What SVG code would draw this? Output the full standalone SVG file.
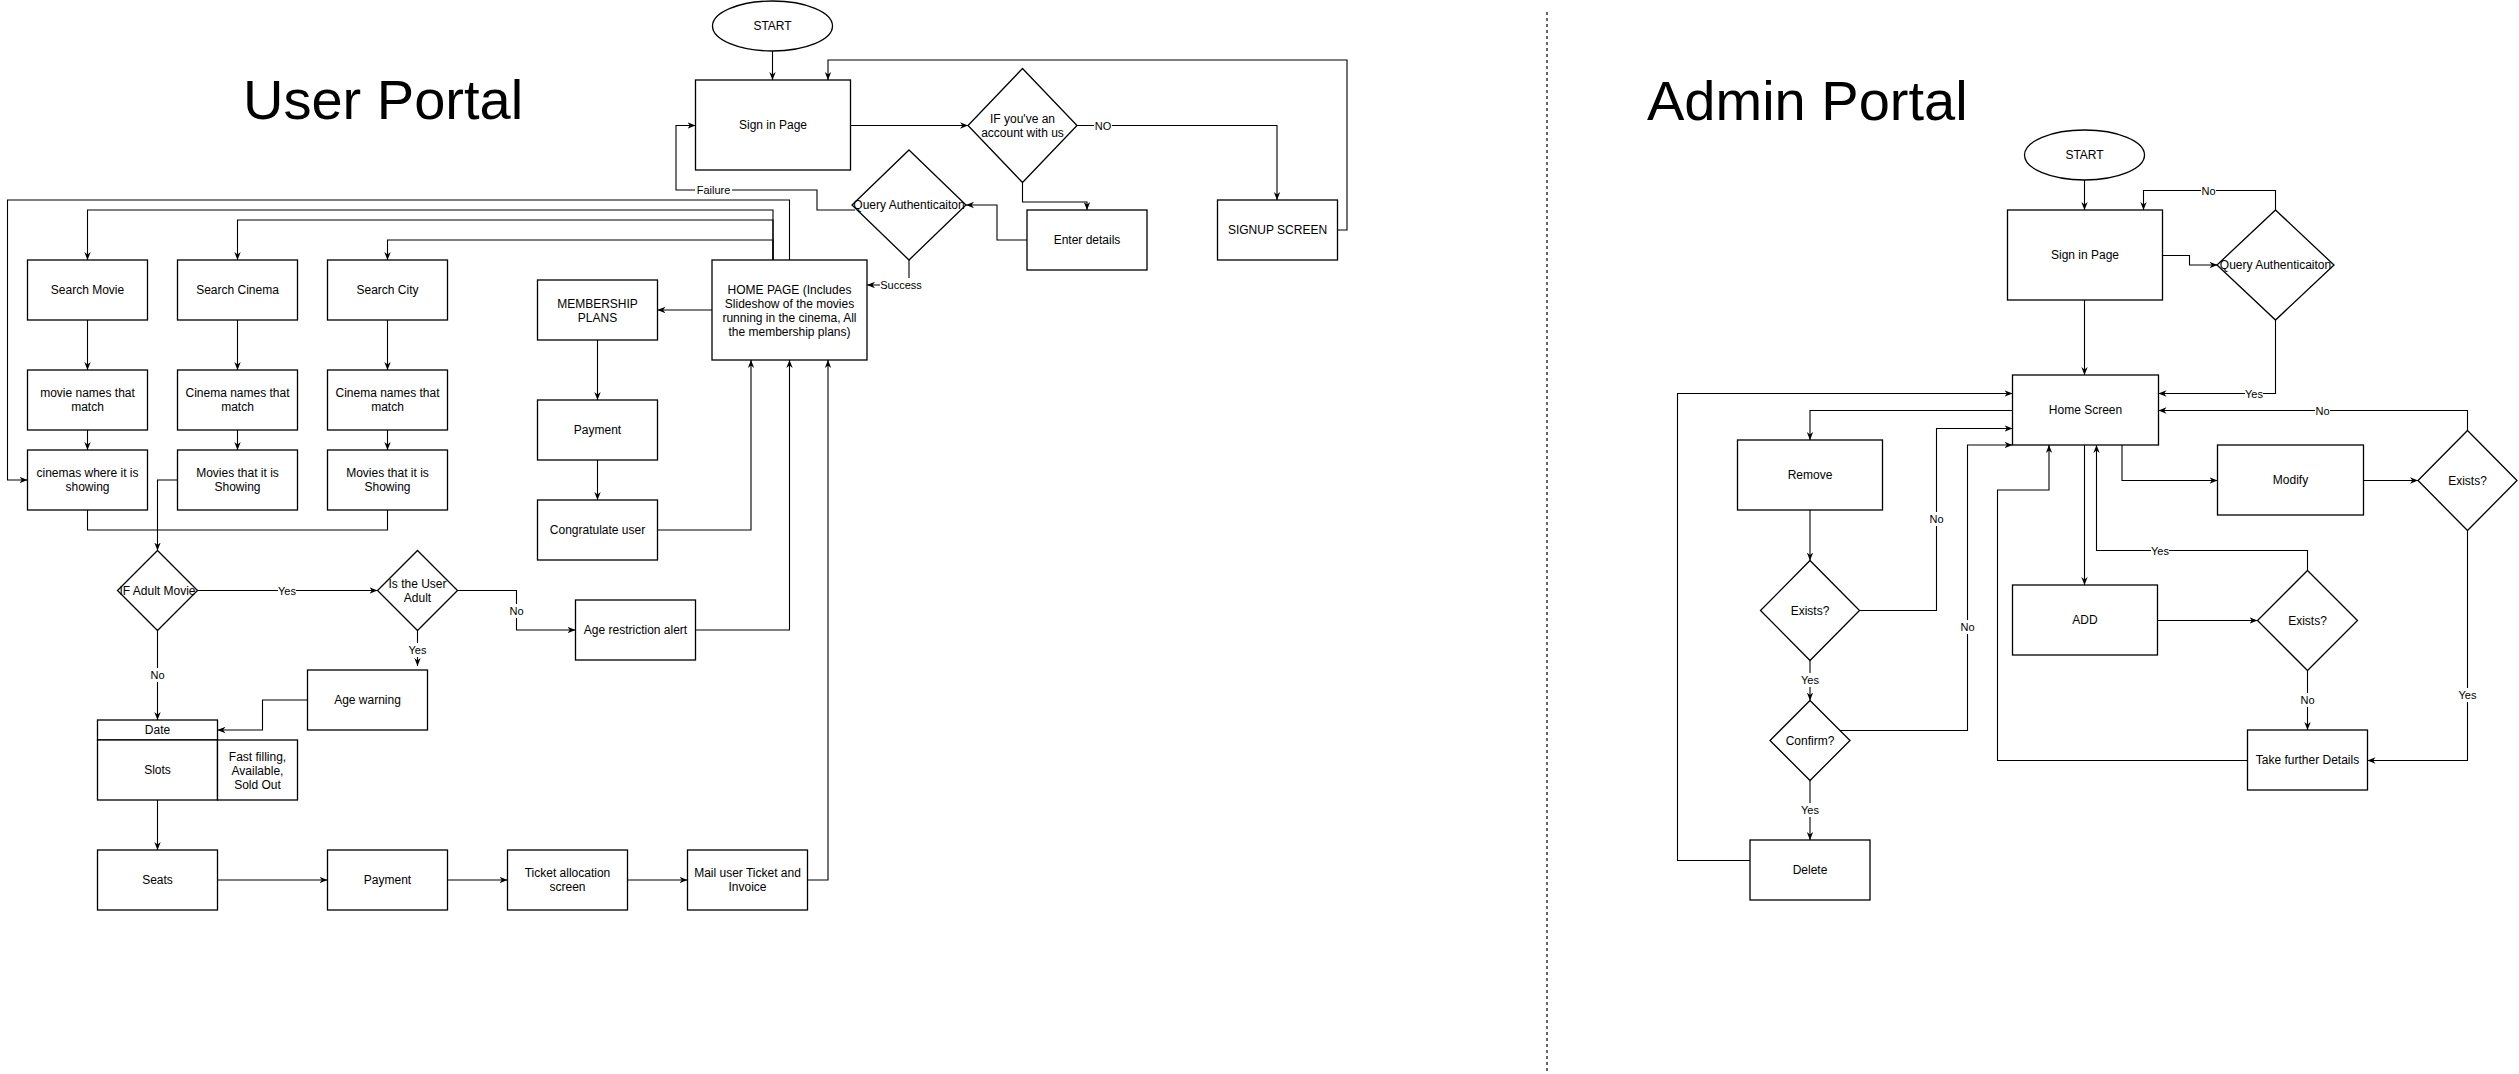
<svg xmlns="http://www.w3.org/2000/svg" width="2519" height="1074" viewBox="0 0 2519 1074">
<style>
text{font-family:"Liberation Sans",Arial,sans-serif;font-size:12px;fill:#000;text-anchor:middle;dominant-baseline:central}
.title{font-size:56px;text-anchor:start;dominant-baseline:alphabetic}
.lbl{font-size:11px}
.box{fill:#fff;stroke:#000;stroke-width:1.3}
.e{fill:none;stroke:#000;stroke-width:1.1}
.a{marker-end:url(#arr)}
.lb{fill:#fff}
</style>
<defs>
<marker id="arr" viewBox="0 0 10 10" refX="10" refY="5" markerWidth="8" markerHeight="8" markerUnits="userSpaceOnUse" orient="auto">
<path d="M0,1 L10,5 L0,9 L3,5 z" fill="#000"/>
</marker>
</defs>
<rect width="2519" height="1074" fill="#fff"/>
<text class="title" x="243" y="119">User Portal</text>
<text class="title" x="1647" y="120">Admin Portal</text>
<line x1="1547" y1="12" x2="1547" y2="1071" stroke="#000" stroke-width="1.2" stroke-dasharray="3 3"/>

<g id="connectors">
<!-- user -->
<path class="e a" d="M772.5 51 V80"/>
<path class="e a" d="M1337.5 230 H1347 V60 H828 V80"/>
<path class="e a" d="M850.5 125.5 H968"/>
<path class="e a" d="M1077 125.5 H1277 V200"/>
<path class="e a" d="M1022.5 182.5 V202 H1087 V210"/>
<path class="e a" d="M1027 240 H997 V205 H966"/>
<path class="e a" d="M855 210 H817 V190 H676 V125.5 H695.5"/>
<path class="e a" d="M909 260 V285 H867"/>
<path class="e a" d="M773 260 V210 H87.5 V260"/>
<path class="e a" d="M773 260 V220 H237.5 V260"/>
<path class="e a" d="M773 260 V240 H387.5 V260"/>
<path class="e a" d="M789.5 260 V200 H7.5 V480 H27.5"/>
<path class="e a" d="M712 310 H657.5"/>
<path class="e a" d="M597.5 340 V400"/>
<path class="e a" d="M597.5 460 V500"/>
<path class="e a" d="M657.5 530 H751 V360"/>
<path class="e a" d="M87.5 320 V370"/>
<path class="e a" d="M237.5 320 V370"/>
<path class="e a" d="M387.5 320 V370"/>
<path class="e a" d="M87.5 430 V450"/>
<path class="e a" d="M237.5 430 V450"/>
<path class="e a" d="M387.5 430 V450"/>
<path class="e" d="M87.5 510 V530 H387.5 V510"/>
<path class="e a" d="M177.5 480 H157.5 V550.5"/>
<path class="e a" d="M197.5 590.5 H377.5"/>
<path class="e a" d="M457.5 590.5 H516.5 V630 H575.5"/>
<path class="e a" d="M695.5 630 H789.5 V360"/>
<path class="e a" d="M417.5 630.5 V666"/>
<path class="e a" d="M307.5 700 H262.5 V730 H217.5"/>
<path class="e a" d="M157.5 630.5 V720"/>
<path class="e a" d="M157.5 800 V850"/>
<path class="e a" d="M217.5 880 H327.5"/>
<path class="e a" d="M447.5 880 H507.5"/>
<path class="e a" d="M627.5 880 H687.5"/>
<path class="e a" d="M807.5 880 H828 V360"/>
<!-- admin -->
<path class="e a" d="M2084.5 180 V210"/>
<path class="e a" d="M2162.5 255.5 H2189.5 V265 H2217.5"/>
<path class="e a" d="M2275.5 210 V190.5 H2143.5 V210"/>
<path class="e a" d="M2275.5 320 V393.5 H2158.5"/>
<path class="e a" d="M2084.5 300 V375"/>
<path class="e a" d="M2012.5 410.5 H1810 V440"/>
<path class="e a" d="M1810 510 V560.5"/>
<path class="e a" d="M1859.5 610.5 H1936.5 V428.5 H2012.5"/>
<path class="e a" d="M1810 660.5 V700.5"/>
<path class="e a" d="M1840 730.5 H1967.5 V445 H2012.5"/>
<path class="e a" d="M1810 780.5 V840"/>
<path class="e a" d="M1750 860.5 H1677.5 V393.5 H2012.5"/>
<path class="e a" d="M2084.5 445 V585"/>
<path class="e a" d="M2122 445 V480.5 H2217.5"/>
<path class="e a" d="M2363.5 480.5 H2418"/>
<path class="e a" d="M2467.5 430.5 V410.5 H2158.5"/>
<path class="e a" d="M2467.5 530.5 V760.5 H2367.5"/>
<path class="e a" d="M2157.5 620.5 H2257.5"/>
<path class="e a" d="M2307.5 670.5 V730"/>
<path class="e a" d="M2307.5 570.5 V550.5 H2096.5 V445"/>
<path class="e a" d="M2247.5 760.5 H1997.5 V490 H2049 V445"/>
<!-- labels -->
<rect class="lb" x="695" y="183" width="37" height="14"/><text class="lbl" x="713.5" y="190">Failure</text>
<rect class="lb" x="880" y="278" width="42" height="14"/><text class="lbl" x="901" y="285">Success</text>
<rect class="lb" x="1094" y="119" width="18" height="14"/><text class="lbl" x="1103" y="126">NO</text>
<rect class="lb" x="278" y="583" width="18" height="14"/><text class="lbl" x="287" y="590.5">Yes</text>
<rect class="lb" x="509" y="604" width="15" height="14"/><text class="lbl" x="516.5" y="611">No</text>
<rect class="lb" x="409" y="643" width="18" height="14"/><text class="lbl" x="417.5" y="650">Yes</text>
<rect class="lb" x="150" y="668" width="15" height="14"/><text class="lbl" x="157.5" y="675">No</text>
<rect class="lb" x="2201" y="183" width="15" height="14"/><text class="lbl" x="2208.5" y="190.5">No</text>
<rect class="lb" x="2245" y="386" width="18" height="14"/><text class="lbl" x="2254" y="393.5">Yes</text>
<rect class="lb" x="2315" y="403" width="15" height="14"/><text class="lbl" x="2322.5" y="410.5">No</text>
<rect class="lb" x="1929" y="512" width="15" height="14"/><text class="lbl" x="1936.5" y="519">No</text>
<rect class="lb" x="1801" y="673" width="18" height="14"/><text class="lbl" x="1810" y="680">Yes</text>
<rect class="lb" x="1960" y="620" width="15" height="14"/><text class="lbl" x="1967.5" y="627">No</text>
<rect class="lb" x="1801" y="803" width="18" height="14"/><text class="lbl" x="1810" y="810">Yes</text>
<rect class="lb" x="2151" y="543" width="18" height="14"/><text class="lbl" x="2160" y="550.5">Yes</text>
<rect class="lb" x="2300" y="693" width="15" height="14"/><text class="lbl" x="2307.5" y="700">No</text>
<rect class="lb" x="2459" y="688" width="18" height="14"/><text class="lbl" x="2467.5" y="695">Yes</text>
</g>

<!-- user nodes -->
<g id="u-start"><ellipse class="box" cx="772.5" cy="26" rx="60" ry="25"/><text x="772.5" y="26">START</text></g>
<g id="u-signin"><rect class="box" x="695.5" y="80" width="155" height="90"/><text x="773" y="125">Sign in Page</text></g>
<g id="u-ifaccount"><polygon class="box" points="1022.5,68.5 1077,125.5 1022.5,182.5 968,125.5"/><text x="1022.5" y="119">IF you've an</text><text x="1022.5" y="133">account with us</text></g>
<g id="u-signup"><rect class="box" x="1217.5" y="200" width="120" height="60"/><text x="1277.5" y="230">SIGNUP SCREEN</text></g>
<g id="u-enter"><rect class="box" x="1027" y="210" width="120" height="60"/><text x="1087" y="240">Enter details</text></g>
<g id="u-query"><polygon class="box" points="909,150 966,205 909,260 852,205"/><text x="909" y="205">Query Authenticaiton</text></g>
<g id="u-home"><rect class="box" x="712" y="260" width="155" height="100"/><text x="789.5" y="289.7">HOME PAGE (Includes</text><text x="789.5" y="303.7">Slideshow of the movies</text><text x="789.5" y="317.7">running in the cinema, All</text><text x="789.5" y="331.7">the membership plans)</text></g>
<g id="u-searchmovie"><rect class="box" x="27.5" y="260" width="120" height="60"/><text x="87.5" y="290">Search Movie</text></g>
<g id="u-searchcinema"><rect class="box" x="177.5" y="260" width="120" height="60"/><text x="237.5" y="290">Search Cinema</text></g>
<g id="u-searchcity"><rect class="box" x="327.5" y="260" width="120" height="60"/><text x="387.5" y="290">Search City</text></g>
<g id="u-movienames"><rect class="box" x="27.5" y="370" width="120" height="60"/><text x="87.5" y="393">movie names that</text><text x="87.5" y="407">match</text></g>
<g id="u-cinemanames1"><rect class="box" x="177.5" y="370" width="120" height="60"/><text x="237.5" y="393">Cinema names that</text><text x="237.5" y="407">match</text></g>
<g id="u-cinemanames2"><rect class="box" x="327.5" y="370" width="120" height="60"/><text x="387.5" y="393">Cinema names that</text><text x="387.5" y="407">match</text></g>
<g id="u-cinemaswhere"><rect class="box" x="27.5" y="450" width="120" height="60"/><text x="87.5" y="473">cinemas where it is</text><text x="87.5" y="487">showing</text></g>
<g id="u-moviesshowing1"><rect class="box" x="177.5" y="450" width="120" height="60"/><text x="237.5" y="473">Movies that it is</text><text x="237.5" y="487">Showing</text></g>
<g id="u-moviesshowing2"><rect class="box" x="327.5" y="450" width="120" height="60"/><text x="387.5" y="473">Movies that it is</text><text x="387.5" y="487">Showing</text></g>
<g id="u-membership"><rect class="box" x="537.5" y="280" width="120" height="60"/><text x="597.5" y="303.5">MEMBERSHIP</text><text x="597.5" y="317.5">PLANS</text></g>
<g id="u-mpayment"><rect class="box" x="537.5" y="400" width="120" height="60"/><text x="597.5" y="430">Payment</text></g>
<g id="u-congrats"><rect class="box" x="537.5" y="500" width="120" height="60"/><text x="597.5" y="530">Congratulate user</text></g>
<g id="u-ifadult"><polygon class="box" points="157.5,550.5 197.5,590.5 157.5,630.5 117.5,590.5"/><text x="157.5" y="590.5">IF Adult Movie</text></g>
<g id="u-isadult"><polygon class="box" points="417.5,550.5 457.5,590.5 417.5,630.5 377.5,590.5"/><text x="417.5" y="583.5">Is the User</text><text x="417.5" y="597.5">Adult</text></g>
<g id="u-agealert"><rect class="box" x="575.5" y="600" width="120" height="60"/><text x="635.5" y="630">Age restriction alert</text></g>
<g id="u-agewarning"><rect class="box" x="307.5" y="670" width="120" height="60"/><text x="367.5" y="700">Age warning</text></g>
<g id="u-dateslots"><rect class="box" x="97.5" y="720" width="120" height="20"/><text x="157.5" y="730">Date</text><rect class="box" x="97.5" y="740" width="120" height="60"/><text x="157.5" y="770">Slots</text><rect class="box" x="217.5" y="740" width="80" height="60"/><text x="257.5" y="756.5">Fast filling,</text><text x="257.5" y="770.5">Available,</text><text x="257.5" y="784.5">Sold Out</text></g>
<g id="u-seats"><rect class="box" x="97.5" y="850" width="120" height="60"/><text x="157.5" y="880">Seats</text></g>
<g id="u-payment"><rect class="box" x="327.5" y="850" width="120" height="60"/><text x="387.5" y="880">Payment</text></g>
<g id="u-ticket"><rect class="box" x="507.5" y="850" width="120" height="60"/><text x="567.5" y="873">Ticket allocation</text><text x="567.5" y="887">screen</text></g>
<g id="u-mail"><rect class="box" x="687.5" y="850" width="120" height="60"/><text x="747.5" y="873">Mail user Ticket and</text><text x="747.5" y="887">Invoice</text></g>

<!-- admin nodes -->
<g id="a-start"><ellipse class="box" cx="2084.5" cy="155" rx="60" ry="25"/><text x="2084.5" y="155">START</text></g>
<g id="a-signin"><rect class="box" x="2007.5" y="210" width="155" height="90"/><text x="2085" y="255">Sign in Page</text></g>
<g id="a-query"><polygon class="box" points="2275.5,210 2334,265 2275.5,320 2217,265"/><text x="2275.5" y="265">Query Authenticaiton</text></g>
<g id="a-home"><rect class="box" x="2012.5" y="375" width="146" height="70"/><text x="2085.5" y="410">Home Screen</text></g>
<g id="a-remove"><rect class="box" x="1737.5" y="440" width="145" height="70"/><text x="1810" y="475">Remove</text></g>
<g id="a-exists1"><polygon class="box" points="1810,560.5 1859.5,610.5 1810,660.5 1760.5,610.5"/><text x="1810" y="610.5">Exists?</text></g>
<g id="a-confirm"><polygon class="box" points="1810,700.5 1850,740.5 1810,780.5 1770,740.5"/><text x="1810" y="740.5">Confirm?</text></g>
<g id="a-delete"><rect class="box" x="1750" y="840" width="120" height="60"/><text x="1810" y="870">Delete</text></g>
<g id="a-add"><rect class="box" x="2012.5" y="585" width="145" height="70"/><text x="2085" y="620">ADD</text></g>
<g id="a-exists2"><polygon class="box" points="2307.5,570.5 2357.5,620.5 2307.5,670.5 2257.5,620.5"/><text x="2307.5" y="620.5">Exists?</text></g>
<g id="a-modify"><rect class="box" x="2217.5" y="445" width="146" height="70"/><text x="2290.5" y="480">Modify</text></g>
<g id="a-exists3"><polygon class="box" points="2467.5,430.5 2517,480.5 2467.5,530.5 2418,480.5"/><text x="2467.5" y="480.5">Exists?</text></g>
<g id="a-further"><rect class="box" x="2247.5" y="730" width="120" height="60"/><text x="2307.5" y="760">Take further Details</text></g>
</svg>
